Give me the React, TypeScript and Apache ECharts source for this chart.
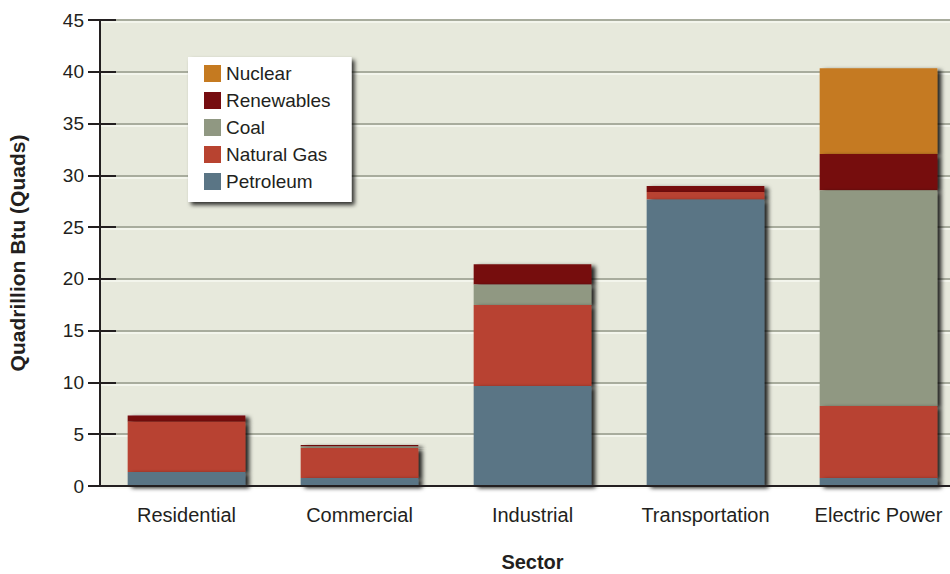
import React, { useEffect, useRef } from "react";
import * as echarts from "echarts";

const sectors = ["Residential", "Commercial", "Industrial", "Transportation", "Electric Power"];
const petroleum = [1.35, 0.77, 9.65, 27.67, 0.77];
const naturalGas = [4.85, 2.9, 7.82, 0.71, 6.95];
const coal = [0, 0.15, 2.0, 0, 20.85];
const renewables = [0.62, 0.13, 1.95, 0.58, 3.48];
const nuclear = [0, 0, 0, 0, 8.3];
const legendOrder = ["Nuclear", "Renewables", "Coal", "Natural Gas", "Petroleum"];

const FONT = "'Liberation Sans', Arial, Helvetica, sans-serif";
const TXT = "#231f20";

export default function App() {
  const ref = useRef<HTMLDivElement>(null);
  useEffect(() => {
    const chart = echarts.init(ref.current!, null, { renderer: "svg" });
    const shadow = {
      shadowColor: "rgba(0,0,0,0.85)",
      shadowBlur: 4,
      shadowOffsetX: 4,
      shadowOffsetY: 2,
    };
    const mk = (name: string, data: number[], color: string, z: number) => ({
      name,
      type: "bar",
      stack: "total",
      data,
      barWidth: "68%",
      xAxisIndex: 0,
      yAxisIndex: 0,
      z,
      itemStyle: { color, ...shadow },
      emphasis: { disabled: true },
    });
    chart.setOption({
      animation: false,
      textStyle: { fontFamily: FONT },
      grid: [
        { left: 100, right: -15, top: 20, bottom: 88, show: true, backgroundColor: "#e7e9dc", borderWidth: 0, outerBoundsMode: "none", containLabel: false },
        { left: 100, right: -15, top: 22, bottom: 86, show: false, outerBoundsMode: "none", containLabel: false },
      ],
      legend: {
        data: legendOrder,
        orient: "vertical",
        left: 188,
        top: 57,
        z: 30,
        icon: "rect",
        itemWidth: 17,
        itemHeight: 17,
        itemGap: 8,
        padding: [7, 21, 11, 16],
        backgroundColor: "#ffffff",
        shadowColor: "rgba(0,0,0,0.8)",
        shadowBlur: 4,
        shadowOffsetX: 3,
        shadowOffsetY: 3,
        textStyle: { fontFamily: FONT, fontSize: 19, color: TXT },
        selectedMode: false,
      },
      xAxis: [
        {
          type: "category",
          data: sectors,
          gridIndex: 0,
          axisLine: { lineStyle: { color: "#231f20", width: 2 } },
          axisTick: { show: false },
          axisLabel: { fontSize: 20, color: TXT, margin: 19, interval: 0, fontFamily: FONT },
          name: "Sector",
          nameLocation: "middle",
          nameGap: 66,
          nameTextStyle: { fontSize: 20, fontWeight: "bold", color: TXT, fontFamily: FONT },
          z: 20,
        },
        {
          type: "category",
          data: sectors,
          gridIndex: 1,
          show: false,
        },
      ],
      yAxis: [
        {
          type: "value",
          gridIndex: 0,
          min: 0,
          max: 45,
          interval: 5,
          axisLine: { show: true, lineStyle: { color: "#231f20", width: 2 } },
          axisTick: { show: true, length: 12, lineStyle: { color: "#231f20", width: 2 } },
          axisLabel: { fontSize: 19, color: TXT, margin: 16, fontFamily: FONT },
          splitLine: { show: true, lineStyle: { color: "#a8ac9d", width: 2 } },
          name: "Quadrillion Btu (Quads)",
          nameLocation: "middle",
          nameGap: 72,
          nameTextStyle: { fontSize: 21, fontWeight: "bold", color: TXT, fontFamily: FONT },
        },
        {
          type: "value",
          gridIndex: 0,
          min: 0,
          max: 45,
          interval: 5,
          position: "left",
          axisLine: { show: false },
          axisTick: { show: true, inside: true, length: 16, lineStyle: { color: "#231f20", width: 2 } },
          axisLabel: { show: false },
          splitLine: { show: false },
        },
        {
          type: "value",
          gridIndex: 1,
          min: 0,
          max: 45,
          interval: 5,
          axisLine: { show: false },
          axisTick: { show: false },
          axisLabel: { show: false },
          splitLine: { show: true, lineStyle: { color: "#f7f8f2", width: 1.5 } },
        },
      ],
      series: [
        mk("Petroleum", petroleum, "#5a7585", 14),
        mk("Natural Gas", naturalGas, "#b84330", 13),
        mk("Coal", coal, "#909882", 12),
        mk("Renewables", renewables, "#760d10", 11),
        mk("Nuclear", nuclear, "#c57a20", 10),
      ],
    });
    return () => chart.dispose();
  }, []);
  return (
    <div
      ref={ref}
      style={{ position: "fixed", left: 0, top: 0, width: 950, height: 574, background: "#ffffff" }}
    />
  );
}
